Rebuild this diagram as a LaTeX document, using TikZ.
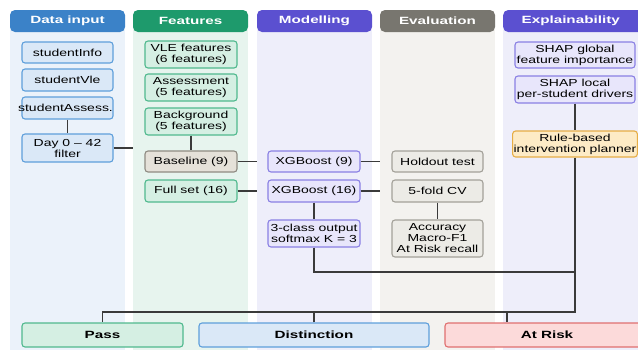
\documentclass[tikz,border=0pt]{standalone}
\usepackage{fontspec}
\setmainfont{Liberation Sans}[FakeStretch=1.37]
\newfontfamily\hfont{Liberation Sans}[FakeStretch=1.45]
\definecolor{dhead}{HTML}{3B82C8}
\definecolor{dbg}{HTML}{EBF2FA}
\definecolor{dfill}{HTML}{DAE8F7}
\definecolor{dline}{HTML}{5E9FDB}
\definecolor{fhead}{HTML}{1E9A6C}
\definecolor{fbg}{HTML}{E7F4EE}
\definecolor{ffill}{HTML}{D5EFE3}
\definecolor{fline}{HTML}{50B98E}
\definecolor{mhead}{HTML}{5B50D0}
\definecolor{mbg}{HTML}{EEEEFA}
\definecolor{mfill}{HTML}{E8E6FB}
\definecolor{mline}{HTML}{8A80E3}
\definecolor{ehead}{HTML}{78766F}
\definecolor{ebg}{HTML}{F3F2EF}
\definecolor{efill}{HTML}{ECEBE6}
\definecolor{eline}{HTML}{A3A199}
\definecolor{bfill}{HTML}{E5E1D9}
\definecolor{bline}{HTML}{8F8B82}
\definecolor{rfill}{HTML}{FDEBC6}
\definecolor{rline}{HTML}{E6AD45}
\definecolor{afill}{HTML}{FCDADA}
\definecolor{aline}{HTML}{E07070}
\definecolor{lncol}{HTML}{3A3A3A}
\tikzset{
  box/.style={draw, rounded corners=3pt, line width=1.1pt, inner sep=1pt, align=center,
    font=\fontsize{10.2}{11}\selectfont},
  dbox/.style={box, fill=dfill, draw=dline, minimum width=91pt},
  fbox/.style={box, fill=ffill, draw=fline, minimum width=92pt},
  mbox/.style={box, fill=mfill, draw=mline, minimum width=92pt},
  ebox/.style={box, fill=efill, draw=eline, minimum width=91pt},
  xbox/.style={box, fill=mfill, draw=mline, minimum width=120pt},
  hdr/.style={rounded corners=5pt, text=white, minimum height=22pt, inner sep=0pt,
    font=\hfont\bfseries\fontsize{10.5}{11}\selectfont},
  outbox/.style={draw, rounded corners=3pt, line width=1.1pt, minimum height=24pt, inner sep=0pt,
    font=\hfont\bfseries\fontsize{10.5}{11}\selectfont},
  conn/.style={draw=lncol, line width=1.3pt}
}
\begin{document}
\begin{tikzpicture}[x=1pt,y=-1pt]
\useasboundingbox (0,0) rectangle (638,349);
\clip (0,0) rectangle (638,349);
% column backgrounds
\fill[dbg] (10,20) rectangle (125,355);
\fill[fbg] (133,20) rectangle (248,355);
\fill[mbg] (257,20) rectangle (372,355);
\fill[ebg] (380,20) rectangle (495,355);
\fill[mbg] (503,20) rectangle (645,355);
% headers
\node[hdr, fill=dhead, minimum width=115pt] (h1) at (67.5,21) {Data input};
\node[hdr, fill=fhead, minimum width=115pt] (h2) at (190.5,21) {Features};
\node[hdr, fill=mhead, minimum width=115pt] (h3) at (314.5,21) {Modelling};
\node[hdr, fill=ehead, minimum width=115pt] (h4) at (437.5,21) {Evaluation};
\node[hdr, fill=mhead, minimum width=150pt, anchor=west] (h5) at (503,21) {\hspace*{-15pt}Explainability};
% data input
\node[dbox, minimum height=21pt] (si) at (67.5,52.5) {studentInfo};
\node[dbox, minimum height=22pt] (sv) at (67.5,80) {studentVle};
\node[dbox, minimum height=22pt] (sa) at (67.5,108) {\makebox[0pt]{\hspace*{-4pt}studentAssess.}};
\node[dbox, minimum height=28pt] (day) at (67.5,148) {Day 0 -- 42\\filter};
% features
\node[fbox, minimum height=27pt] (vle) at (191,54.5) {VLE features\\(6 features)};
\node[fbox, minimum height=27pt] (ass) at (191,87.5) {Assessment\\(5 features)};
\node[fbox, minimum height=27pt] (bg) at (191,121.5) {Background\\(5 features)};
\node[box, fill=bfill, draw=bline, minimum width=92pt, minimum height=21pt] (base) at (191,161.5) {Baseline (9)};
\node[fbox, minimum height=22pt] (full) at (191,191) {Full set (16)};
% modelling
\node[mbox, minimum height=21pt] (xg9) at (314,161.5) {XGBoost (9)};
\node[mbox, minimum height=22pt] (xg16) at (314,191) {XGBoost (16)};
\node[mbox, minimum height=27pt] (cls) at (314,233.5) {3-class output\\softmax K = 3};
% evaluation
\node[ebox, minimum height=21pt] (hold) at (437.5,161.5) {Holdout test};
\node[ebox, minimum height=22pt] (cv) at (437.5,191) {5-fold CV};
\node[ebox, minimum height=37pt] (acc) at (437.5,238.5) {Accuracy\\Macro-F1\\At Risk recall};
% explainability
\node[xbox, minimum height=26pt] (shapg) at (575,55) {SHAP global\\feature importance};
\node[xbox, minimum height=27pt] (shapl) at (575,89.5) {SHAP local\\per-student drivers};
\node[box, fill=rfill, draw=rline, minimum width=120pt, minimum height=26pt] (rule) at (575,144) {Rule-based\\intervention planner};
% outcomes
\node[outbox, fill=ffill, draw=fline, minimum width=161pt] (pass) at (102.5,335) {Pass};
\node[outbox, fill=dfill, draw=dline, minimum width=230pt] (dist) at (314,335) {Distinction};
\node[outbox, fill=afill, draw=aline, minimum width=204pt] (risk) at (547,335) {At Risk};
% connectors
\draw[conn] (sa) -- (day);
\coordinate (c1) at (133,148);
\draw[conn] (day.east) -- (c1);
\draw[conn] (bg) -- (base);
\coordinate (c2) at (257,161.5);
\draw[conn] (base.east) -- (c2);
\coordinate (c3) at (257,191);
\draw[conn] (full.east) -- (c3);
\coordinate (c4) at (380,161.5);
\draw[conn] (xg9.east) -- (c4);
\coordinate (c5) at (380,191);
\draw[conn] (xg16.east) -- (c5);
\draw[conn] (xg16) -- (cls);
\draw[conn] (cv) -- (acc);
\draw[conn] (shapl) -- (rule);
\coordinate (j1) at (575,272);
\draw[conn] (cls.south) |- (j1);
\coordinate (j2) at (575,312);
\draw[conn] (rule.south) -- (j2) -| (pass.north);
\draw[conn] (dist.north) -- (dist.north |- j2);
\coordinate (rk) at (507,312);
\draw[conn] (rk) -- (rk |- risk.north);
\end{tikzpicture}
\end{document}
